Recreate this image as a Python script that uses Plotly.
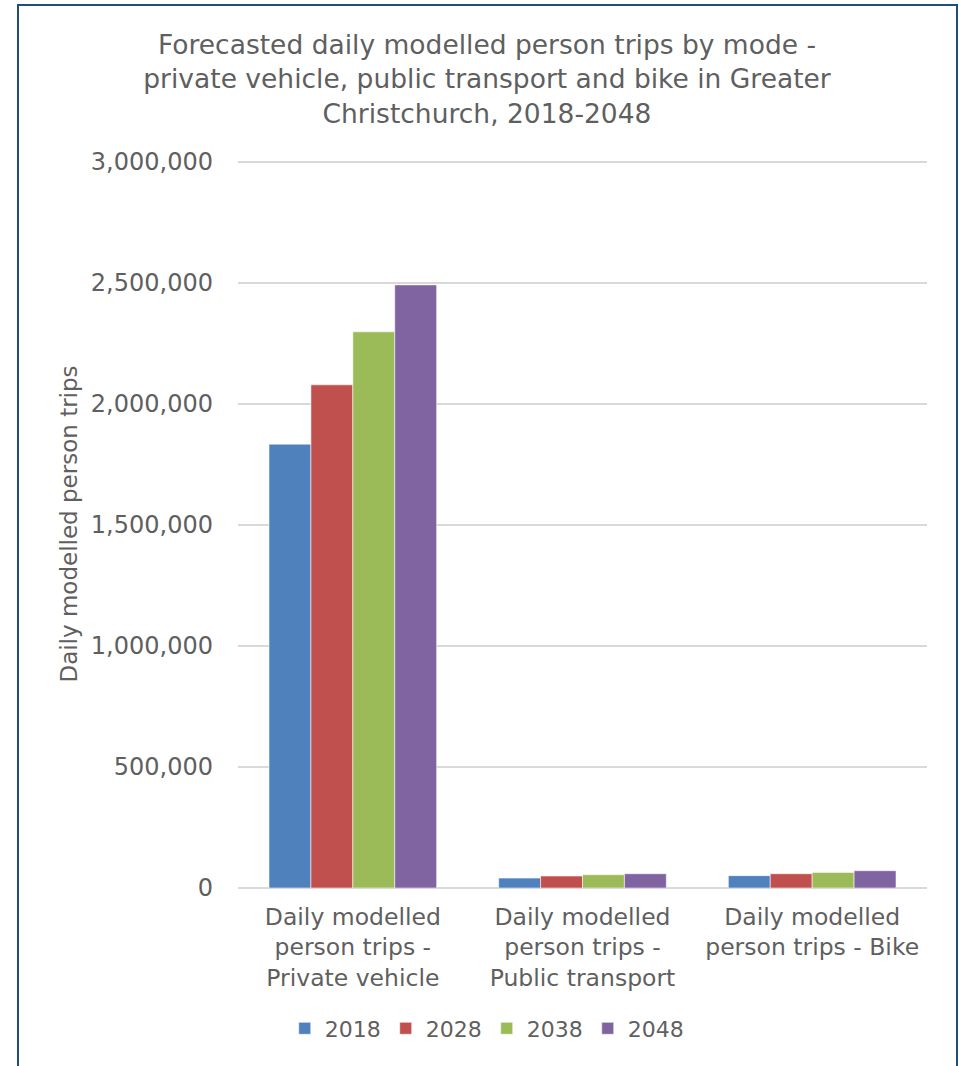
import plotly.graph_objects as go

categories = [
    "Daily modelled<br>person trips -<br>Private vehicle",
    "Daily modelled<br>person trips -<br>Public transport",
    "Daily modelled<br>person trips - Bike",
]
years = ["2018", "2028", "2038", "2048"]
trips_2018 = [1834000, 41000, 51000]
trips_2028 = [2079000, 49500, 59000]
trips_2038 = [2298000, 55000, 64500]
trips_2048 = [2492000, 59000, 71500]
colors = ["#4F81BD", "#C0504D", "#9BBB59", "#8064A2"]
y_ticks = [0, 500000, 1000000, 1500000, 2000000, 2500000, 3000000]

series = [trips_2018, trips_2028, trips_2038, trips_2048]
font_family = "DejaVu Sans, Open Sans, sans-serif"
text_grey = "#5f5f5f"

fig = go.Figure()
for year, vals, col in zip(years, series, colors):
    fig.add_trace(go.Bar(
        name=year, x=categories, y=vals,
        marker=dict(color=col, line=dict(color="rgba(255,255,255,0.55)", width=1)),
    ))

# outer frame around the chart
L, R, T, B = 238, 32, 160, 178
W, H = 959, 1066
pw, ph = W - L - R, H - T - B
def px_x(x):
    return (x - L) / pw
def px_y(y):
    return (H - B - y) / ph

fig.add_shape(type="rect", xref="paper", yref="paper",
              x0=px_x(18), x1=px_x(957), y0=px_y(1080), y1=px_y(5),
              line=dict(color="#1F4E79", width=2), layer="below")

fig.update_layout(
    width=W, height=H,
    margin=dict(l=L, r=R, t=T, b=B),
    paper_bgcolor="white", plot_bgcolor="white",
    barmode="group", bargap=0.27, bargroupgap=0,
    font=dict(family=font_family, color=text_grey, size=22),
    title=dict(
        text="Forecasted daily modelled person trips by mode -<br>private vehicle, public transport and bike in Greater<br>Christchurch, 2018-2048",
        x=487 / W, xref="container", xanchor="center",
        y=1 - 54 / H, yref="container", yanchor="middle",
        font=dict(size=26.5, color=text_grey, family=font_family),
    ),
    yaxis=dict(
        range=[0, 3008000], tickvals=y_ticks,
        tickformat=",", showgrid=True, gridcolor="#D9D9D9", gridwidth=1.5,
        zeroline=True, zerolinecolor="#D9D9D9", zerolinewidth=2,
        ticks="", ticklen=0, ticklabelstandoff=24,
        tickfont=dict(size=24, color=text_grey),
        title=dict(text="Daily modelled person trips", font=dict(size=23, color=text_grey), standoff=6),
        showline=False,
    ),
    xaxis=dict(
        showline=False, ticks="", ticklabelstandoff=12,
        tickfont=dict(size=23.5, color=text_grey),
    ),
    legend=dict(
        orientation="h", x=0.361, xanchor="center", y=-0.193, yanchor="middle",
        font=dict(size=22, color=text_grey), itemwidth=30, traceorder="normal",
    ),
)

fig.write_html("out.html")
